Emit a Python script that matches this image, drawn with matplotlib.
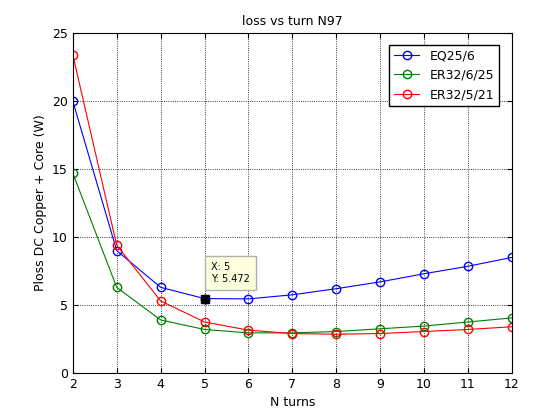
import matplotlib
matplotlib.use("Agg")
import matplotlib.pyplot as plt

turns = [2, 3, 4, 5, 6, 7, 8, 9, 10, 11, 12]
eq25 = [20.0, 9.0, 6.3, 5.472, 5.45, 5.75, 6.2, 6.7, 7.3, 7.85, 8.5]
er32_6 = [14.7, 6.3, 3.9, 3.2, 2.95, 2.95, 3.05, 3.25, 3.45, 3.75, 4.05]
er32_5 = [23.4, 9.4, 5.3, 3.75, 3.15, 2.9, 2.85, 2.9, 3.05, 3.2, 3.4]

fig = plt.figure(figsize=(5.6, 4.2), dpi=100)
ax = fig.add_axes([0.130, 0.112, 0.784, 0.809])
ax.plot(turns, eq25, 'b-o', mfc='none', lw=0.8, ms=6, label='EQ25/6')
ax.plot(turns, er32_6, 'g-o', mfc='none', lw=0.8, ms=6, label='ER32/6/25')
ax.plot(turns, er32_5, 'r-o', mfc='none', lw=0.8, ms=6, label='ER32/5/21')
ax.set_xlim(2, 12)
ax.set_ylim(0, 25)
ax.set_xticks(range(2, 13))
ax.set_yticks(range(0, 26, 5))
ax.grid(True, linestyle=':', color='k', lw=0.6)
ax.tick_params(direction='in', labelsize=9, top=True, right=True)
ax.set_xlabel('N turns', fontsize=9)
ax.set_ylabel('Ploss DC Copper + Core (W)', fontsize=9)
ax.set_title('loss vs turn N97', fontsize=9)
leg = ax.legend(loc='upper right', fontsize=9, fancybox=False, framealpha=1,
                bbox_to_anchor=(0.985, 0.985))
leg.get_frame().set_edgecolor('k')
ax.plot([5], [5.472], 's', color='k', ms=6)
ax.annotate('X: 5\nY: 5.472', xy=(5, 5.472), xytext=(5.15, 6.7), fontsize=7,
            bbox=dict(boxstyle='square,pad=0.6', fc='#ffffe0', ec='#b0b0b0'))
fig.savefig('out.png', dpi=100)
